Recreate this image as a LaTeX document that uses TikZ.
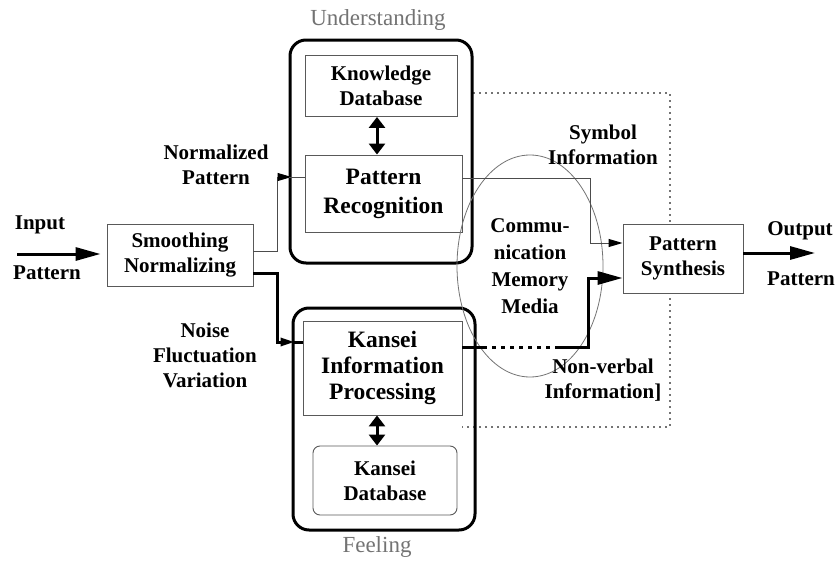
\documentclass[tikz,border=0pt]{standalone}
\usepackage{fontspec}
\setmainfont{Liberation Serif}
\usetikzlibrary{arrows.meta,calc,shapes.geometric}
\tikzset{
  lbl/.style={font=\bfseries\fontsize{21}{25}\selectfont, align=center, inner sep=0pt},
  biglbl/.style={font=\bfseries\fontsize{23.5}{26}\selectfont, align=center, inner sep=0pt},
  grylbl/.style={font=\fontsize{23}{27}\selectfont, text=black!55, inner sep=0pt},
  box/.style={draw=black!65, line width=0.9pt, inner sep=0pt},
  frame/.style={draw=black, line width=3pt, rounded corners=16pt, inner sep=0pt},
  thinconn/.style={draw=black!70, line width=1pt},
  thickconn/.style={draw=black, line width=3pt},
  thinhead/.style={-{Triangle[length=14pt,width=8pt,color=black]}},
  bighead/.style={-{Triangle[length=25pt,width=13pt]}},
  dblhead/.style={{Triangle[length=11pt,width=16pt]}-{Triangle[length=11pt,width=16pt]}},
}
\begin{document}
\begin{tikzpicture}[x=1pt,y=-1pt]
  \useasboundingbox (0,0) rectangle (836,562);
  % frames and the dotted field
  \draw[draw=black!55, line width=1.2pt, dash pattern=on 2pt off 4pt]
    (473,93) -- (670,93) -- (670,427) -- (462,427);
  \node[frame, minimum width=182pt, minimum height=223pt] (under) at (381,151.5) {};
  \node[frame, minimum width=182pt, minimum height=222pt] (feel) at (384,419) {};
  \node[grylbl] (ulbl) at (378,20) {Understanding};
  \node[grylbl] (flbl) at (377,547) {Feeling};
  % boxes
  \node[box, lbl, minimum width=146pt, minimum height=62pt] (smooth) at (180,255) {Smoothing\\Normalizing};
  \node[box, lbl, minimum width=152pt, minimum height=61pt] (know) at (381,86) {Knowledge\\Database};
  \node[box, biglbl, minimum width=157pt, minimum height=77pt] (patrec) at (383.5,193.5) {Pattern\\[3pt]Recognition};
  \node[box, biglbl, minimum width=159pt, minimum height=94pt] (kip) at (382.5,368) {Kansei\\Information\\Processing};
  \node[box, lbl, rounded corners=7pt, minimum width=144pt, minimum height=69pt] (kdb) at (385,480.5) {Kansei\\Database};
  \node[ellipse, draw=black!55, line width=0.8pt, lbl, font=\bfseries\fontsize{21}{27}\selectfont,
    minimum width=146pt, minimum height=222pt] (media) at (530,266) {Commu-\\nication\\Memory\\Media};
  \node[box, lbl, fill=white, minimum width=120pt, minimum height=69pt] (patsyn) at (683,258.5) {Pattern\\Synthesis};
  % labels
  \node[lbl] (inlbl) at (40,225) {Input};
  \node[lbl] (inpat) at (47,273) {Pattern};
  \node[lbl] (outlbl) at (800,231) {Output};
  \node[lbl] (outpat) at (801,279) {Pattern};
  \node[lbl] (normlbl) at (216,165) {Normalized\\Pattern};
  \node[lbl] (noiselbl) at (205,355) {Noise\\Fluctuation\\Variation};
  \node[lbl] (symlbl) at (603,145) {Symbol\\Information};
  \node[lbl] (nvlbl) at (603,380) {Non-verbal\\Information]};
  % bends
  \coordinate (instart) at (17,254);
  \coordinate (outend) at (815,253);
  \coordinate (nrm) at (277,177);
  \coordinate (noi) at (277,342);
  \coordinate (sym) at (590,178);
  \coordinate (symin) at (590,243);
  \coordinate (nvs) at (483,347);
  \coordinate (nvd) at (557,347);
  \coordinate (nv) at (588,278);
  % connectors
  \draw[thickconn, bighead, shorten >=6pt] (instart) -- (smooth.west |- instart);
  \draw[thinconn, thinhead, shorten >=-3pt] ($(smooth.east)+(0,-4)$) -| (nrm) -- (nrm -| under.west);
  \draw[thinconn] (nrm -| under.west) -- (nrm -| patrec.west);
  \draw[thickconn, thinhead, shorten >=-3pt] ($(smooth.east)+(0,18)$) -| (noi) -- (noi -| feel.west);
  \draw[thickconn] (noi -| feel.west) -- (noi -| kip.west);
  \draw[thickconn, dblhead] (know.south -| 377,0) -- (patrec.north -| 377,0);
  \draw[thickconn, dblhead] (kip.south -| 377,0) -- (kdb.north -| 377,0);
  \draw[thinconn, thinhead] (patrec.east |- sym) -- (sym) -- (symin) -- (symin -| patsyn.west);
  \draw[thickconn] (kip.east |- nvs) -- (nvs);
  \draw[thickconn, dash pattern=on 4pt off 5pt] (nvs) -- (nvd);
  \draw[thickconn, bighead] (nvd) -| (nv) -- (nv -| patsyn.west);
  \draw[thickconn, bighead] (patsyn.east |- outend) -- (outend);
\end{tikzpicture}
\end{document}
